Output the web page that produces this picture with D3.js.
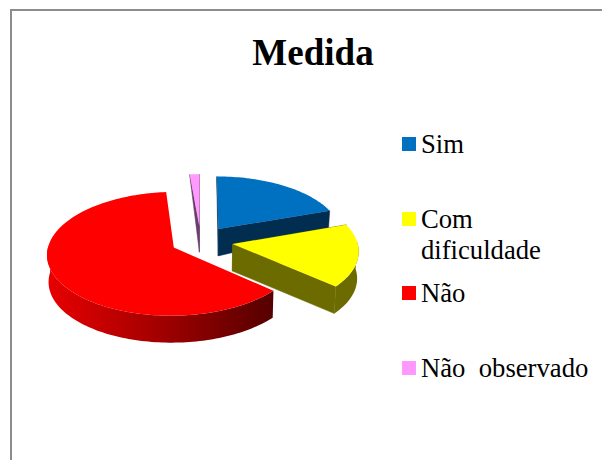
<!DOCTYPE html>
<html><head><meta charset="utf-8">
<script src="https://cdn.jsdelivr.net/npm/d3@7/dist/d3.min.js"></script>
<style>html,body{margin:0;padding:0;background:#fff;overflow:hidden}svg{display:block}text{font-family:"Liberation Serif","Times New Roman",serif;white-space:pre;fill:#000}</style>
</head><body><div id="c"></div>
<script>
const title = "Medida";
const categories = [["Sim"], ["Com", "dificuldade"], ["Não"], ["Não  observado"]];
const values = [19.7, 16.7, 62.2, 1.4];
const colors = ["#0070c0", "#ffff00", "#ff0000", "#ff99ff"];
const wallColors = ["#002d50", "#6b6b00", "#8c0000", "#6b3d6b"];
const explode = [0.25, 0.26, 0.24, 0.25];
const viewDist = 10.2, depthPx = 26;
const legendSwatchY = [137, 212, 286, 361];

const svg = d3.select("#c").append("svg").attr("width", 602).attr("height", 460);
svg.append("rect").attr("x", 11).attr("y", 10).attr("width", 640).attr("height", 500)
  .attr("fill", "#fff").attr("stroke", "#8c8c8c").attr("stroke-width", 2);
svg.append("text").attr("x", 313).attr("y", 65).attr("text-anchor", "middle")
  .attr("font-size", 37).attr("font-weight", "bold").text(title);

const sx = d3.scaleLinear().domain([-1, 1]).range([200.7 - 124.5, 200.7 + 124.5]);
const sy = d3.scaleLinear().domain([-1, 1]).range([241 + 60, 241 - 60]);
const persp = p => viewDist / (viewDist + p);
const topPt = (px, py) => { const s = persp(py); return [sx(px * s), sy(py * s)]; };
const depth = py => Math.min(depthPx + 1, depthPx + 1 - 24 * (py - 0.2));
const botPt = (px, py) => { const s = persp(py); return [sx(px * s * 0.99), sy(py * s) + depth(py)]; };
const line = d3.line();

const defs = svg.append("defs");
const grad = defs.append("linearGradient").attr("id", "redWall")
  .attr("gradientUnits", "userSpaceOnUse").attr("x1", 47).attr("x2", 275).attr("y1", 0).attr("y2", 0);
[[0, "#e80000"], [0.45, "#a80000"], [1, "#540000"]].forEach(s => grad.append("stop").attr("offset", s[0]).attr("stop-color", s[1]));

const arcs = d3.pie().sort(null).value(d => d)(values);
const order = [3, 0, 1, 2];
order.forEach(i => {
  const d = arcs[i];
  const mid = (d.startAngle + d.endAngle) / 2;
  const ox = explode[i] * Math.sin(mid), oy = explode[i] * Math.cos(mid);
  const rim = a => [ox + Math.sin(a), oy + Math.cos(a)];
  const n = Math.max(4, Math.ceil((d.endAngle - d.startAngle) * 40));
  const angles = d3.range(n + 1).map(k => d.startAngle + (d.endAngle - d.startAngle) * k / n);
  const g = svg.append("g");
  const wallFill = i === 2 ? "url(#redWall)" : wallColors[i];
  const quad = (a, col) => {
    const r = rim(a);
    g.append("path").attr("fill", col).attr("stroke", col).attr("stroke-width", 0.5)
      .attr("d", line([topPt(ox, oy), topPt(...r), botPt(...r), botPt(ox, oy)]) + "Z");
  };
  // radial faces
  if (i !== 2) { quad(d.startAngle, wallColors[i]); quad(d.endAngle, wallColors[i]); }
  // outer wall: only the front half of the rim shows
  const front = angles.filter(a => Math.cos(a) < 0.05);
  if (front.length > 1) {
    const pts = front.map(a => rim(a));
    g.append("path").attr("fill", wallFill)
      .attr("d", line(pts.map(p => topPt(...p)).concat(pts.slice().reverse().map(p => botPt(...p)))) + "Z");
  }
  // top surface
  const top = [topPt(ox, oy)].concat(angles.map(a => topPt(...rim(a))));
  g.append("path").attr("fill", colors[i]).attr("d", line(top) + "Z");
});

const legend = svg.append("g");
categories.forEach((lines, i) => {
  legend.append("rect").attr("x", 402).attr("y", legendSwatchY[i]).attr("width", 14).attr("height", 14).attr("fill", colors[i]);
  lines.forEach((t, k) => legend.append("text").attr("x", 421).attr("y", legendSwatchY[i] + 16 + k * 31)
    .attr("font-size", 26.67).text(t));
});
</script></body></html>
